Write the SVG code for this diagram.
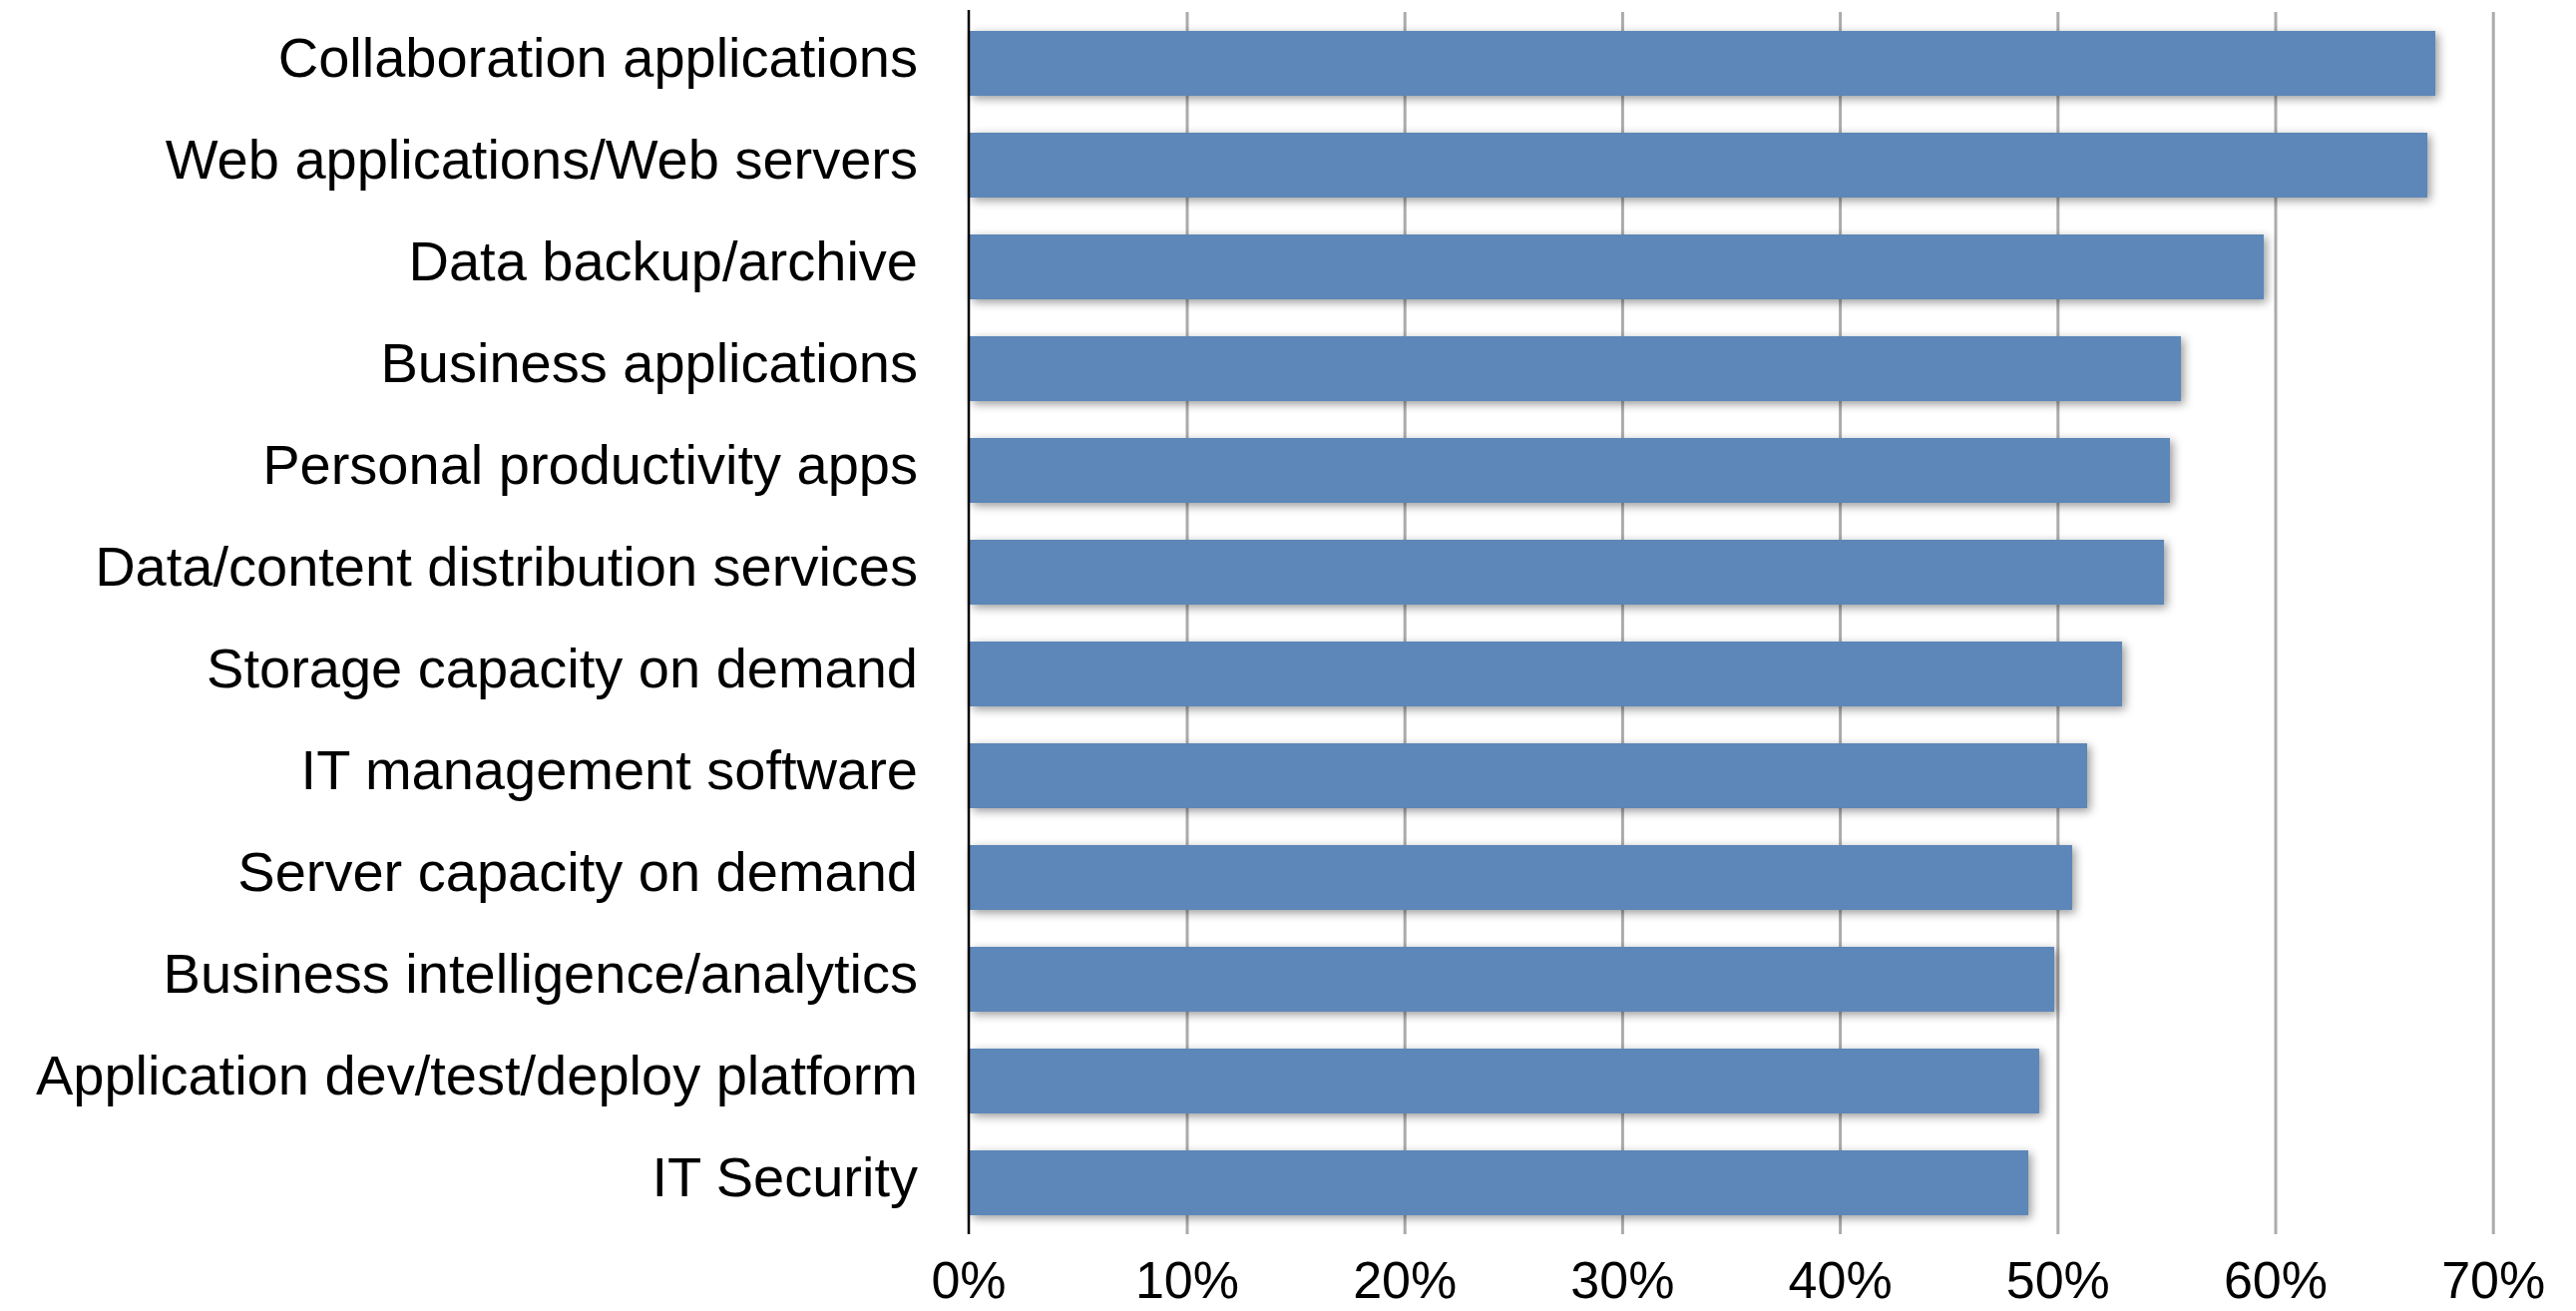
<svg xmlns="http://www.w3.org/2000/svg" width="2582" height="1314" viewBox="0 0 2582 1314">
<defs>
<filter id="sh" x="-5%" y="-30%" width="115%" height="170%">
<feDropShadow dx="3" dy="3" stdDeviation="5" flood-color="#000" flood-opacity="0.4"/>
</filter>
<style>
.lbl{font-family:"Liberation Sans",Arial,sans-serif;font-size:56px;fill:#000;text-anchor:end}
.tick{font-family:"Liberation Sans",Arial,sans-serif;font-size:52px;fill:#000;text-anchor:middle}
.bar{fill:#5b87b8;filter:url(#sh)}
.grid{stroke:#ababab;stroke-width:3}
.axis{stroke:#000;stroke-width:2.5}
</style>
</defs>
<rect width="2582" height="1314" fill="#fff"/>
<g id="gridlines">
<line class="grid" x1="1190" y1="12" x2="1190" y2="1237"/>
<line class="grid" x1="1408.2" y1="12" x2="1408.2" y2="1237"/>
<line class="grid" x1="1626.4" y1="12" x2="1626.4" y2="1237"/>
<line class="grid" x1="1844.6" y1="12" x2="1844.6" y2="1237"/>
<line class="grid" x1="2062.8" y1="12" x2="2062.8" y2="1237"/>
<line class="grid" x1="2281" y1="12" x2="2281" y2="1237"/>
<line class="grid" x1="2499.2" y1="12" x2="2499.2" y2="1237"/>
</g>
<g id="bar1"><rect class="bar" x="972" y="31" width="1469" height="65"/><text class="lbl" x="920" y="77">Collaboration applications</text></g>
<g id="bar2"><rect class="bar" x="972" y="133" width="1461" height="65"/><text class="lbl" x="920" y="179">Web applications/Web servers</text></g>
<g id="bar3"><rect class="bar" x="972" y="235" width="1297" height="65"/><text class="lbl" x="920" y="281">Data backup/archive</text></g>
<g id="bar4"><rect class="bar" x="972" y="337" width="1214" height="65"/><text class="lbl" x="920" y="383">Business applications</text></g>
<g id="bar5"><rect class="bar" x="972" y="439" width="1203" height="65"/><text class="lbl" x="920" y="485">Personal productivity apps</text></g>
<g id="bar6"><rect class="bar" x="972" y="541" width="1197" height="65"/><text class="lbl" x="920" y="587">Data/content distribution services</text></g>
<g id="bar7"><rect class="bar" x="972" y="643" width="1155" height="65"/><text class="lbl" x="920" y="689">Storage capacity on demand</text></g>
<g id="bar8"><rect class="bar" x="972" y="745" width="1120" height="65"/><text class="lbl" x="920" y="791">IT management software</text></g>
<g id="bar9"><rect class="bar" x="972" y="847" width="1105" height="65"/><text class="lbl" x="920" y="893">Server capacity on demand</text></g>
<g id="bar10"><rect class="bar" x="972" y="949" width="1087" height="65"/><text class="lbl" x="920" y="995">Business intelligence/analytics</text></g>
<g id="bar11"><rect class="bar" x="972" y="1051" width="1072" height="65"/><text class="lbl" x="920" y="1097">Application dev/test/deploy platform</text></g>
<g id="bar12"><rect class="bar" x="972" y="1153" width="1061" height="65"/><text class="lbl" x="920" y="1199">IT Security</text></g>
<g id="axis">
<line class="axis" x1="971" y1="10" x2="971" y2="1237"/>
<text class="tick" x="971" y="1301">0%</text>
<text class="tick" x="1190" y="1301">10%</text>
<text class="tick" x="1408.2" y="1301">20%</text>
<text class="tick" x="1626.4" y="1301">30%</text>
<text class="tick" x="1844.6" y="1301">40%</text>
<text class="tick" x="2062.8" y="1301">50%</text>
<text class="tick" x="2281" y="1301">60%</text>
<text class="tick" x="2499.2" y="1301">70%</text>
</g>
</svg>
